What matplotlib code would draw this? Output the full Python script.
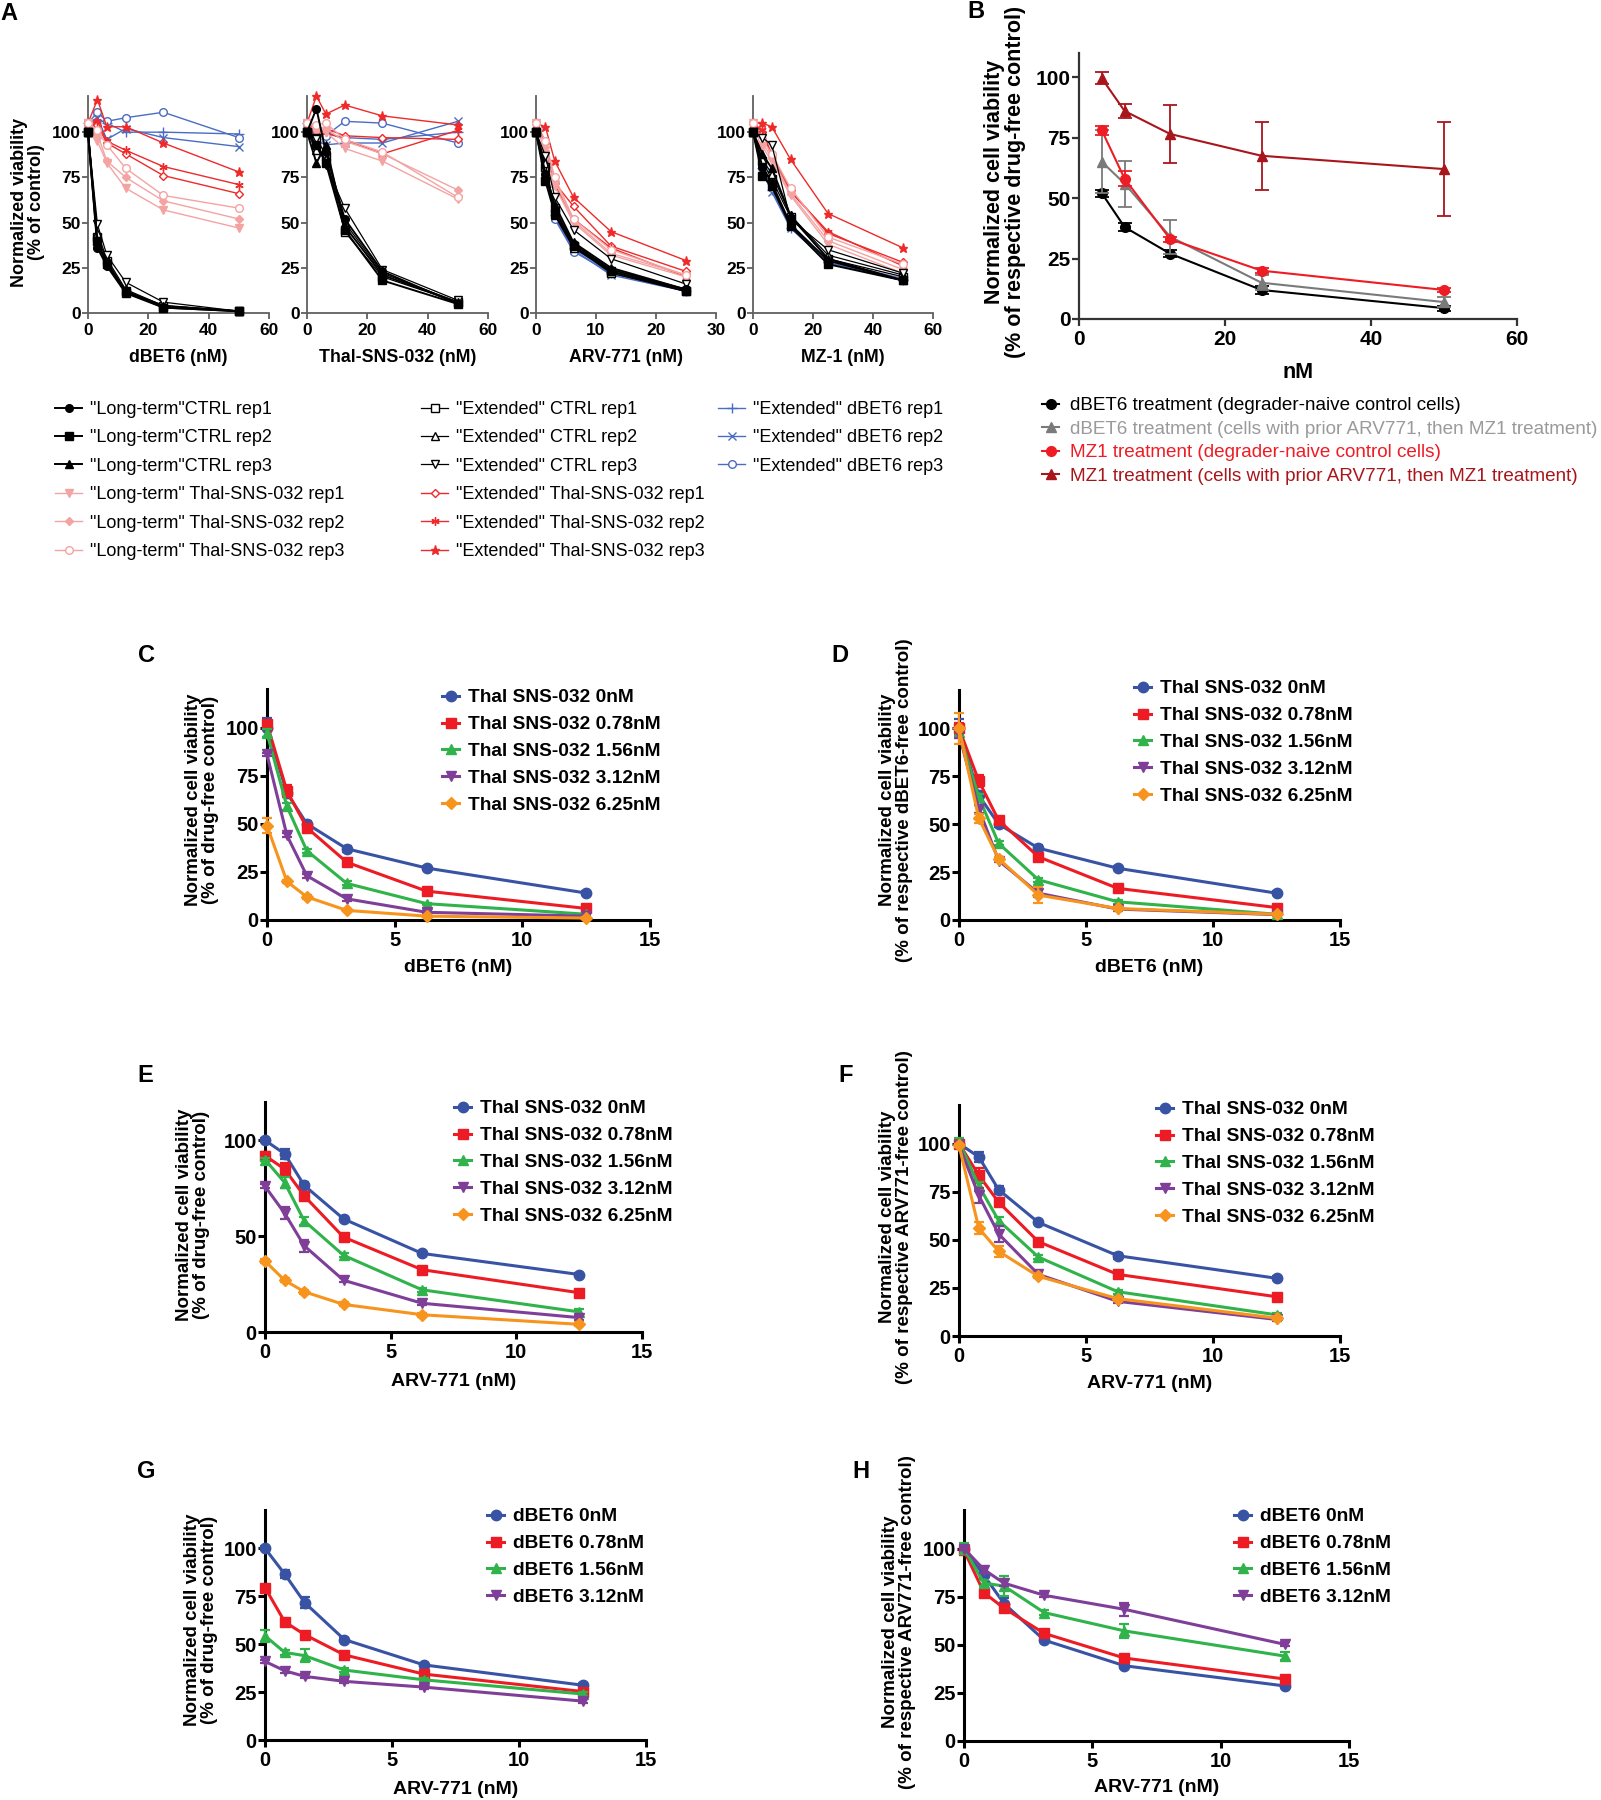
import matplotlib
matplotlib.use('Agg')
import matplotlib.pyplot as plt

plt.rcParams['font.family'] = ['Liberation Sans', 'DejaVu Sans']

# ---------------- DATA ----------------
A_labels = ['"Long-term"CTRL rep1', '"Long-term"CTRL rep2', '"Long-term"CTRL rep3',
            '"Long-term" Thal-SNS-032 rep1', '"Long-term" Thal-SNS-032 rep2', '"Long-term" Thal-SNS-032 rep3',
            '"Extended" CTRL rep1', '"Extended" CTRL rep2', '"Extended" CTRL rep3',
            '"Extended" Thal-SNS-032 rep1', '"Extended" Thal-SNS-032 rep2', '"Extended" Thal-SNS-032 rep3',
            '"Extended" dBET6 rep1', '"Extended" dBET6 rep2', '"Extended" dBET6 rep3']

A_dbet6_x = [0, 3.125, 6.25, 12.5, 25, 50]
A_dbet6_y = [
    [100, 36, 26, 11, 3, 1], [100, 40, 27, 12, 3, 1], [100, 38, 28, 12, 4, 1],
    [105, 95, 83, 69, 57, 47], [105, 99, 84, 75, 62, 52], [105, 101, 93, 80, 65, 58],
    [100, 42, 29, 11, 4, 1], [100, 44, 30, 13, 4, 1], [100, 49, 32, 17, 6, 1],
    [105, 104, 94, 88, 76, 66], [105, 106, 95, 90, 81, 71], [105, 118, 103, 103, 94, 78],
    [105, 107, 105, 100, 100, 99], [105, 108, 96, 102, 97, 92], [105, 111, 106, 108, 111, 97],
]
A_thal_x = [0, 3.125, 6.25, 12.5, 25, 50]
A_thal_y = [
    [100, 113, 89, 52, 23, 5], [100, 93, 83, 46, 18, 5], [100, 83, 93, 48, 21, 6],
    [105, 100, 100, 91, 84, 63], [105, 103, 102, 95, 88, 68], [105, 104, 105, 96, 89, 64],
    [100, 97, 87, 45, 20, 6], [100, 90, 85, 50, 22, 6], [100, 96, 82, 58, 24, 7],
    [105, 98, 102, 98, 97, 96], [105, 101, 100, 96, 88, 101], [105, 120, 110, 115, 109, 104],
    [105, 96, 99, 97, 96, 100], [105, 95, 93, 94, 94, 106], [105, 102, 98, 106, 105, 94],
]
A_arv_x = [0, 1.5625, 3.125, 6.25, 12.5, 25]
A_arv_y = [
    [100, 77, 57, 38, 24, 13], [100, 73, 55, 37, 23, 12], [100, 77, 60, 39, 25, 13],
    [105, 88, 70, 50, 32, 20], [105, 92, 73, 51, 33, 21], [105, 95, 75, 52, 35, 21],
    [100, 81, 58, 37, 22, 12], [100, 83, 54, 36, 23, 13], [100, 87, 64, 46, 30, 16],
    [105, 95, 72, 59, 37, 23], [105, 93, 71, 52, 36, 20], [105, 103, 84, 64, 45, 29],
    [100, 84, 54, 36, 22, 12], [100, 82, 53, 35, 21, 12], [100, 86, 52, 34, 22, 13],
]
A_mz1_x = [0, 3.125, 6.25, 12.5, 25, 50]
A_mz1_y = [
    [100, 81, 72, 49, 29, 18], [100, 76, 70, 48, 27, 18], [100, 88, 80, 54, 30, 18],
    [105, 92, 84, 65, 38, 22], [105, 94, 86, 66, 40, 24], [105, 96, 88, 69, 42, 27],
    [100, 84, 74, 53, 30, 20], [100, 85, 77, 54, 32, 21], [100, 97, 93, 52, 35, 22],
    [105, 100, 88, 68, 44, 28], [105, 101, 86, 67, 45, 26], [105, 105, 103, 85, 55, 36],
    [100, 80, 68, 47, 28, 18], [100, 78, 67, 47, 28, 18], [100, 80, 69, 48, 29, 19],
]

B_labels = ['dBET6 treatment (degrader-naive control cells)',
            'dBET6 treatment (cells with prior ARV771, then MZ1 treatment)',
            'MZ1 treatment (degrader-naive control cells)',
            'MZ1 treatment (cells with prior ARV771, then MZ1 treatment)']
B_x = [3.125, 6.25, 12.5, 25, 50]
B_dbet6_naive = [52, 38, 27, 12, 4.5]
B_dbet6_naive_err = [1.5, 1.5, 1.5, 1.5, 1]
B_dbet6_prior = [65, 56, 34, 15, 7]
B_dbet6_prior_err = [13, 9.5, 7, 3, 2]
B_mz1_naive = [78, 58, 33, 20, 12]
B_mz1_naive_err = [2, 3, 1, 1, 1]
B_mz1_prior = [99.5, 86, 76.5, 67.5, 62]
B_mz1_prior_err = [2.5, 3, 12, 14, 19.5]

CH_x = [0, 0.78, 1.56, 3.125, 6.25, 12.5]
thal_labels = ['Thal SNS-032 0nM', 'Thal SNS-032 0.78nM', 'Thal SNS-032 1.56nM',
               'Thal SNS-032 3.12nM', 'Thal SNS-032 6.25nM']
dbet_labels = ['dBET6 0nM', 'dBET6 0.78nM', 'dBET6 1.56nM', 'dBET6 3.12nM']

C_y = [[100, 66, 50, 37, 27, 14], [102, 67, 48, 30, 15, 6], [97, 59, 36, 19, 8.5, 3],
       [86, 44, 23, 11, 4, 2], [49, 20, 12, 5, 2, 1]]
C_err = [[5, 2, 1.5, 1.5, 1, 1], [2, 3, 1.5, 1, 1, 1], [2, 2, 1, 1, 0.5, 0.5],
         [1, 1, 1, 1, 0.5, 0.5], [4, 1, 1, 0.5, 0.5, 0.5]]
D_y = [[100, 65, 50, 37.5, 27, 14], [100, 72.5, 52, 33, 16.5, 6.5], [98, 64, 40, 21, 9.5, 3],
       [97, 58, 31, 14, 5.7, 2.8], [100, 53, 32, 13, 6, 3]]
D_err = [[5, 2, 1.5, 1.5, 1, 1], [3, 3, 1.5, 1.5, 1, 1], [2, 2, 1, 1, 1, 0.5],
         [2, 2, 1, 2, 1, 0.5], [8, 2.5, 1, 4, 1, 0.5]]
E_y = [[100, 93, 76.5, 59, 41, 30], [92, 85, 71, 49.5, 32.5, 20.5], [90, 78, 58, 40, 22, 10.5],
       [76, 62, 45, 27, 15, 7.5], [37, 27, 21, 14.4, 9, 4]]
E_err = [[1, 2.5, 2, 1, 1, 1], [2, 3, 1.5, 1, 1, 1], [1, 3, 2, 1, 1, 1.5],
         [1, 3, 3, 1, 1, 1], [1, 1, 1, 1, 1, 1]]
F_y = [[100, 93, 76, 59, 41.7, 30], [100, 83.5, 69.5, 49, 32, 20.4], [101, 78, 60, 41, 23, 11],
       [99, 73, 53, 32, 18, 8.6], [99, 56, 44, 31, 19.4, 9.3]]
F_err = [[1, 2.5, 2, 1, 1.5, 1], [1, 4, 2, 1.5, 1.5, 1.5], [2, 2, 2, 1, 1, 1],
         [1, 4, 4, 1, 1, 1], [1, 3, 3, 1, 1, 1]]
G_y = [[100, 86.5, 71.7, 52.4, 39.2, 28.6], [79.5, 61.6, 55, 44.4, 34.4, 25.3],
       [54.3, 45.7, 44, 36.5, 31.4, 24], [41, 36.1, 33.2, 30.6, 27.6, 20.3]]
G_err = [[1, 2, 3, 1, 1, 1], [1, 1, 1, 1, 1, 1], [3, 1.5, 3.5, 1, 1, 1], [1, 1, 1, 1, 1, 1]]
H_y = [[100, 86, 71.4, 52.4, 39.1, 28.6], [99, 77, 69, 55.9, 43.1, 32.2],
       [100, 82, 80.5, 66.7, 57.2, 44.1], [100, 89, 82, 75.7, 68.4, 50.2]]
H_err = [[2, 2, 3, 1, 1, 1], [2, 1.5, 1.5, 1, 1, 1], [3, 1.5, 5, 1.5, 3.5, 2], [1, 1.5, 1.5, 1, 3.5, 1]]

# ---------------- FIGURE ----------------
W, H = 1601, 1800
fig = plt.figure(figsize=(W / 100, H / 100), dpi=100)


def add_ax(l, r, t, b):
    return fig.add_axes([l / W, 1 - b / H, (r - l) / W, (b - t) / H])


def ftext(x, y, s, **kw):
    fig.text(x / W, 1 - y / H, s, **kw)


def style(ax, xlim, xticks, ylim, yticks, fs, sc, slw, tl=5, padx=3, pady=1.5):
    ax.set_xlim(*xlim)
    ax.set_ylim(*ylim)
    ax.set_xticks(xticks, [str(t) for t in xticks], fontsize=fs, fontweight='bold')
    ax.set_yticks(yticks, [str(t) for t in yticks], fontsize=fs, fontweight='bold')
    for s in ['top', 'right']:
        ax.spines[s].set_visible(False)
    for s in ['left', 'bottom']:
        ax.spines[s].set_color(sc)
        ax.spines[s].set_linewidth(slw)
    ax.tick_params(axis='both', direction='out', length=tl, width=slw, color=sc)
    ax.tick_params(axis='x', pad=padx)
    ax.tick_params(axis='y', pad=pady)
    ax.patch.set_alpha(0)


# ---------------- PANEL A ----------------
PINK = '#f4a3a3'
RED = '#ee2a2a'
BLUE = '#4a6cc3'
A_styles = [
    dict(color='k', marker='o', mfc='k', ms=5.5, lw=1.4),
    dict(color='k', marker='s', mfc='k', ms=5.5, lw=1.4),
    dict(color='k', marker='^', mfc='k', ms=5.5, lw=1.4),
    dict(color=PINK, marker='v', mfc=PINK, ms=5.5, lw=1.0),
    dict(color=PINK, marker='D', mfc=PINK, ms=4.5, lw=1.0),
    dict(color=PINK, marker='o', mfc='white', ms=5.5, lw=1.0),
    dict(color='k', marker='s', mfc='white', ms=5.5, lw=0.9),
    dict(color='k', marker='^', mfc='white', ms=5.5, lw=0.9),
    dict(color='k', marker='v', mfc='white', ms=5.5, lw=0.9),
    dict(color=RED, marker='D', mfc='white', ms=4.5, lw=1.0),
    dict(color=RED, marker=(6, 2, 0), mfc=RED, ms=6, lw=1.0),
    dict(color=RED, marker='*', mfc=RED, ms=6.5, lw=1.0),
    dict(color=BLUE, marker='+', mfc=BLUE, ms=6.5, lw=1.0),
    dict(color=BLUE, marker='x', mfc=BLUE, ms=5.5, lw=1.0),
    dict(color=BLUE, marker='o', mfc='white', ms=5.5, lw=1.0),
]
A_z = [10, 10, 10, 6, 6, 6, 8, 8, 8, 4, 4, 4, 2, 2, 2]

A_panels = [
    (A_dbet6_x, A_dbet6_y, (0, 60), [0, 20, 40, 60], 'dBET6 (nM)', 88, 269),
    (A_thal_x, A_thal_y, (0, 60), [0, 20, 40, 60], 'Thal-SNS-032 (nM)', 307, 488),
    (A_arv_x, A_arv_y, (0, 30), [0, 10, 20, 30], 'ARV-771 (nM)', 536, 716),
    (A_mz1_x, A_mz1_y, (0, 60), [0, 20, 40, 60], 'MZ-1 (nM)', 753, 933),
]
A_handles = None
for (xs, ys, xl, xt, xlab, l, r) in A_panels:
    ax = add_ax(l, r, 96, 313)
    hs = []
    for yv, st, z in zip(ys, A_styles, A_z):
        h, = ax.plot(xs, yv, color=st['color'], marker=st['marker'], mfc=st['mfc'],
                     mec=st['color'], ms=st['ms'], lw=st['lw'], mew=1.0, zorder=z, clip_on=False)
        hs.append(h)
    if A_handles is None:
        A_handles = hs
    style(ax, xl, xt, (0, 120), [0, 25, 50, 75, 100], 12.5, '#606060', 1.3, tl=4, padx=3, pady=1)
    ftext((l + r) / 2, 358, xlab, ha='center', va='center', fontsize=12.8, fontweight='bold')

ftext(28, 202, 'Normalized viability\n(% of control)', rotation=90, ha='center', va='center',
      fontsize=13, fontweight='bold', linespacing=1.05, multialignment='center')
ftext(0, 13, 'A', ha='left', va='center', fontsize=17, fontweight='bold')

legA_kw = dict(loc='upper left', frameon=False, fontsize=13, handlelength=1.5, handletextpad=0.45,
               labelspacing=0.63, borderpad=0, borderaxespad=0, bbox_transform=fig.transFigure)
for idx, (lx, ty) in zip([range(0, 6), range(6, 12), range(12, 15)], [(55, 401), (421, 401), (718, 401)]):
    fig.legend([A_handles[i] for i in idx], [A_labels[i] for i in idx],
               bbox_to_anchor=(lx / W, 1 - ty / H), **legA_kw)

# ---------------- PANEL B ----------------
axB = add_ax(1079, 1517, 53, 319)
B_series = [(B_dbet6_naive, B_dbet6_naive_err, '#000000', 'o', '#000000'),
            (B_dbet6_prior, B_dbet6_prior_err, '#7a7a7a', '^', '#9a9a9a'),
            (B_mz1_naive, B_mz1_naive_err, '#ee1c24', 'o', '#ee1c24'),
            (B_mz1_prior, B_mz1_prior_err, '#a8161c', '^', '#a8161c')]
hB = []
for yv, ev, c, m, tc in B_series:
    axB.errorbar(B_x, yv, yerr=ev, fmt='none', ecolor=c, elinewidth=1.3, capsize=5, capthick=1.3)
    h, = axB.plot(B_x, yv, color=c, marker=m, ms=7, lw=1.5, clip_on=False)
    hB.append(h)
style(axB, (0, 60), [0, 20, 40, 60], (0, 110), [0, 25, 50, 75, 100], 15, '#333333', 1.6, tl=5, padx=3, pady=1)
ftext(1298, 373, 'nM', ha='center', va='center', fontsize=15.5, fontweight='bold')
ftext(1005, 182, 'Normalized cell viability\n(% of respective drug-free control)', rotation=90,
      ha='center', va='center', fontsize=15.5, fontweight='bold', linespacing=1.0, multialignment='center')
ftext(967, 12, 'B', ha='left', va='center', fontsize=17, fontweight='bold')
legB = fig.legend(hB, B_labels, loc='upper left', frameon=False, fontsize=13.6, handlelength=0.9,
                  handletextpad=0.6, labelspacing=0.33, borderpad=0, borderaxespad=0,
                  bbox_to_anchor=(1042 / W, 1 - 397 / H), bbox_transform=fig.transFigure)
for t, s in zip(legB.get_texts(), B_series):
    t.set_color(s[4])

# ---------------- PANELS C-H ----------------
CH_colors = ['#3953a4', '#ed1c24', '#2fb34a', '#7f3f98', '#f7941d']
CH_markers = ['o', 's', '^', 'v', 'D']
CH_ms = [7.5, 7.5, 7.5, 7.5, 6]

CH_panels = [
    ('C', C_y, C_err, thal_labels, (267, 650, 689, 920), [0, 25, 50, 75, 100], 'dBET6 (nM)',
     'Normalized cell viability\n(% of drug-free control)', (138, 656), (202, 800), 967, (442, 689)),
    ('D', D_y, D_err, thal_labels, (959, 1340, 690, 920), [0, 25, 50, 75, 100], 'dBET6 (nM)',
     'Normalized cell viability\n(% of respective dBET6-free control)', (831, 656), (896, 800), 967, (1134, 680)),
    ('E', E_y, E_err, thal_labels, (265, 642, 1102, 1332), [0, 50, 100], 'ARV-771 (nM)',
     'Normalized cell viability\n(% of drug-free control)', (137, 1076), (193, 1215), 1381, (454, 1100)),
    ('F', F_y, F_err, thal_labels, (959, 1340, 1105, 1336), [0, 25, 50, 75, 100], 'ARV-771 (nM)',
     'Normalized cell viability\n(% of respective ARV771-free control)', (838, 1076), (896, 1217), 1383, (1156, 1101)),
    ('G', G_y, G_err, dbet_labels, (265, 646, 1510, 1740), [0, 25, 50, 75, 100], 'ARV-771 (nM)',
     'Normalized cell viability\n(% of drug-free control)', (137, 1471), (201, 1620), 1789, (487, 1508)),
    ('H', H_y, H_err, dbet_labels, (964, 1349, 1510, 1741), [0, 25, 50, 75, 100], 'ARV-771 (nM)',
     'Normalized cell viability\n(% of respective ARV771-free control)', (852, 1471), (899, 1622), 1788, (1234, 1508)),
]

for (letter, ys, es, labs, box, yt, xlab, ylab, lpos, ylpos, xly, legpos) in CH_panels:
    l, r, t, b = box
    ax = add_ax(l, r, t, b)
    hs = []
    n = len(ys)
    for i in range(n):
        c = CH_colors[i]
        ax.errorbar(CH_x, ys[i], yerr=es[i], fmt='none', ecolor=c, elinewidth=1.6, capsize=3.5,
                    capthick=1.6, clip_on=False, zorder=3 + i * 0.1)
        h, = ax.plot(CH_x, ys[i], color=c, marker=CH_markers[i], ms=CH_ms[i], lw=2.2,
                     clip_on=False, zorder=3 + i * 0.1)
        hs.append(h)
    style(ax, (0, 15), [0, 5, 10, 15], (0, 120), yt, 14.5, 'black', 2.2, tl=5, padx=3, pady=1)
    ftext((l + r) / 2, xly, xlab, ha='center', va='center', fontsize=14, fontweight='bold')
    ftext(ylpos[0], ylpos[1], ylab, rotation=90, ha='center', va='center', fontsize=13.5,
          fontweight='bold', linespacing=1.0, multialignment='center')
    ftext(lpos[0], lpos[1], letter, ha='left', va='center', fontsize=17, fontweight='bold')
    fig.legend(hs, labs, loc='upper left', frameon=False, prop=dict(size=13.8, weight='bold'),
               handlelength=0.9, handletextpad=0.45, labelspacing=0.49, borderpad=0, borderaxespad=0,
               bbox_to_anchor=(legpos[0] / W, 1 - legpos[1] / H), bbox_transform=fig.transFigure)

fig.savefig('out.png', dpi=100)
